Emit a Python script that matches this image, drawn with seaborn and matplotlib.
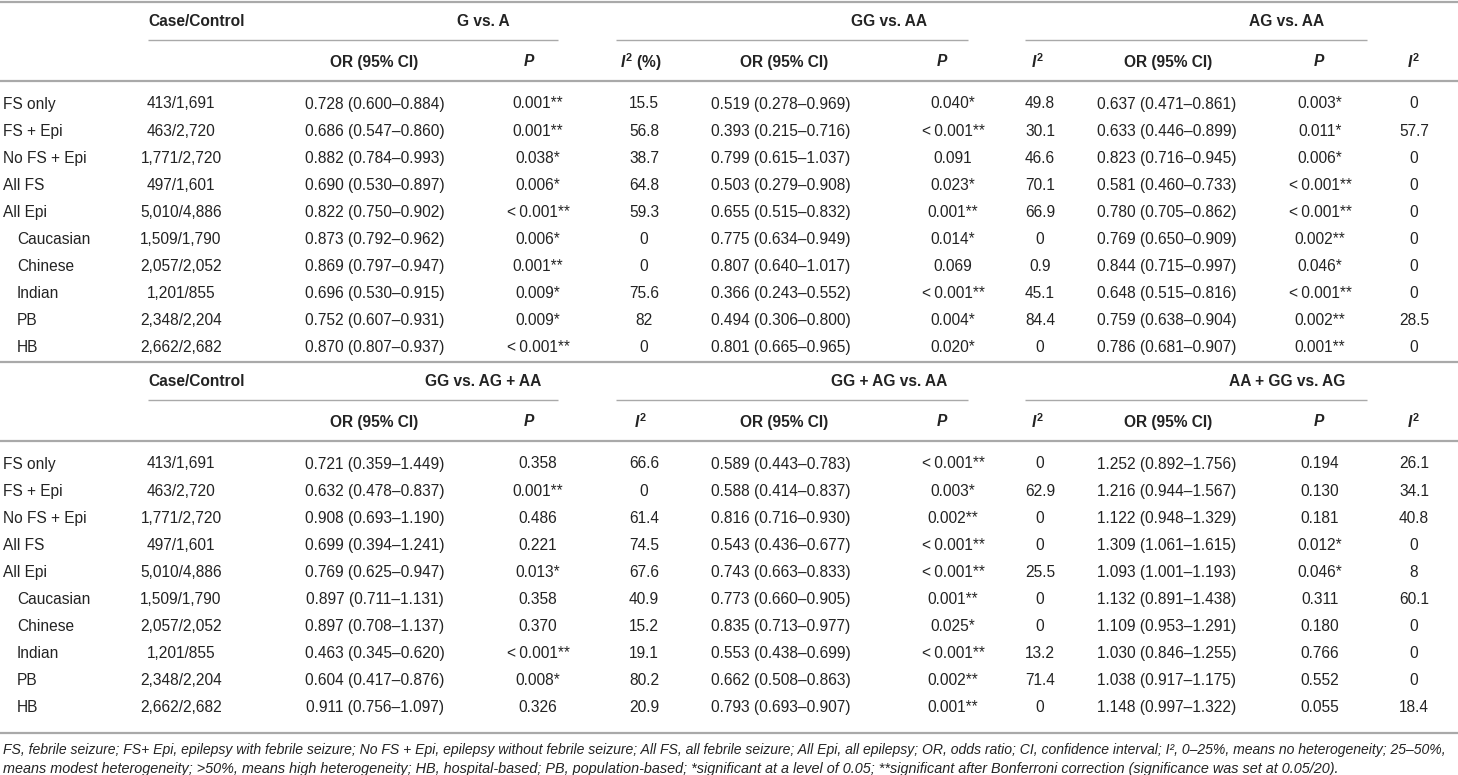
import matplotlib
matplotlib.use("Agg")
import matplotlib.pyplot as plt
import seaborn as sns

# ---------------- data ----------------
row_labels = ["FS only", "FS + Epi", "No FS + Epi", "All FS", "All Epi",
              "Caucasian", "Chinese", "Indian", "PB", "HB"]
row_indent = [False, False, False, False, False, True, True, True, True, True]
case_control = ["413/1,691", "463/2,720", "1,771/2,720", "497/1,601", "5,010/4,886",
                "1,509/1,790", "2,057/2,052", "1,201/855", "2,348/2,204", "2,662/2,682"]

# Table 1
g_vs_a_or = ["0.728 (0.600–0.884)", "0.686 (0.547–0.860)", "0.882 (0.784–0.993)",
             "0.690 (0.530–0.897)", "0.822 (0.750–0.902)", "0.873 (0.792–0.962)",
             "0.869 (0.797–0.947)", "0.696 (0.530–0.915)", "0.752 (0.607–0.931)",
             "0.870 (0.807–0.937)"]
g_vs_a_p = ["0.001**", "0.001**", "0.038*", "0.006*", "<0.001**", "0.006*",
            "0.001**", "0.009*", "0.009*", "<0.001**"]
g_vs_a_i2 = ["15.5", "56.8", "38.7", "64.8", "59.3", "0", "0", "75.6", "82", "0"]

gg_vs_aa_or = ["0.519 (0.278–0.969)", "0.393 (0.215–0.716)", "0.799 (0.615–1.037)",
               "0.503 (0.279–0.908)", "0.655 (0.515–0.832)", "0.775 (0.634–0.949)",
               "0.807 (0.640–1.017)", "0.366 (0.243–0.552)", "0.494 (0.306–0.800)",
               "0.801 (0.665–0.965)"]
gg_vs_aa_p = ["0.040*", "<0.001**", "0.091", "0.023*", "0.001**", "0.014*",
              "0.069", "<0.001**", "0.004*", "0.020*"]
gg_vs_aa_i2 = ["49.8", "30.1", "46.6", "70.1", "66.9", "0", "0.9", "45.1", "84.4", "0"]

ag_vs_aa_or = ["0.637 (0.471–0.861)", "0.633 (0.446–0.899)", "0.823 (0.716–0.945)",
               "0.581 (0.460–0.733)", "0.780 (0.705–0.862)", "0.769 (0.650–0.909)",
               "0.844 (0.715–0.997)", "0.648 (0.515–0.816)", "0.759 (0.638–0.904)",
               "0.786 (0.681–0.907)"]
ag_vs_aa_p = ["0.003*", "0.011*", "0.006*", "<0.001**", "<0.001**", "0.002**",
              "0.046*", "<0.001**", "0.002**", "0.001**"]
ag_vs_aa_i2 = ["0", "57.7", "0", "0", "0", "0", "0", "0", "28.5", "0"]

# Table 2
gg_vs_agaa_or = ["0.721 (0.359–1.449)", "0.632 (0.478–0.837)", "0.908 (0.693–1.190)",
                 "0.699 (0.394–1.241)", "0.769 (0.625–0.947)", "0.897 (0.711–1.131)",
                 "0.897 (0.708–1.137)", "0.463 (0.345–0.620)", "0.604 (0.417–0.876)",
                 "0.911 (0.756–1.097)"]
gg_vs_agaa_p = ["0.358", "0.001**", "0.486", "0.221", "0.013*", "0.358", "0.370",
                "<0.001**", "0.008*", "0.326"]
gg_vs_agaa_i2 = ["66.6", "0", "61.4", "74.5", "67.6", "40.9", "15.2", "19.1", "80.2", "20.9"]

ggag_vs_aa_or = ["0.589 (0.443–0.783)", "0.588 (0.414–0.837)", "0.816 (0.716–0.930)",
                 "0.543 (0.436–0.677)", "0.743 (0.663–0.833)", "0.773 (0.660–0.905)",
                 "0.835 (0.713–0.977)", "0.553 (0.438–0.699)", "0.662 (0.508–0.863)",
                 "0.793 (0.693–0.907)"]
ggag_vs_aa_p = ["<0.001**", "0.003*", "0.002**", "<0.001**", "<0.001**", "0.001**",
                "0.025*", "<0.001**", "0.002**", "0.001**"]
ggag_vs_aa_i2 = ["0", "62.9", "0", "0", "25.5", "0", "0", "13.2", "71.4", "0"]

aagg_vs_ag_or = ["1.252 (0.892–1.756)", "1.216 (0.944–1.567)", "1.122 (0.948–1.329)",
                 "1.309 (1.061–1.615)", "1.093 (1.001–1.193)", "1.132 (0.891–1.438)",
                 "1.109 (0.953–1.291)", "1.030 (0.846–1.255)", "1.038 (0.917–1.175)",
                 "1.148 (0.997–1.322)"]
aagg_vs_ag_p = ["0.194", "0.130", "0.181", "0.012*", "0.046*", "0.311", "0.180",
                "0.766", "0.552", "0.055"]
aagg_vs_ag_i2 = ["26.1", "34.1", "40.8", "0", "8", "60.1", "0", "0", "0", "18.4"]

table1_titles = ["G vs. A", "GG vs. AA", "AG vs. AA"]
table2_titles = ["GG vs. AG + AA", "GG + AG vs. AA", "AA + GG vs. AG"]

footnote_lines = [
    "FS, febrile seizure; FS+ Epi, epilepsy with febrile seizure; No FS + Epi, epilepsy without febrile seizure; "
    "All FS, all febrile seizure; All Epi, all epilepsy; OR, odds ratio; CI, confidence interval; I², 0–25%, "
    "means no heterogeneity; 25–50%,",
    "means modest heterogeneity; >50%, means high heterogeneity; HB, hospital-based; PB, population-based; "
    "*significant at a level of 0.05; **significant after Bonferroni correction (significance was set at 0.05/20).",
]

# ---------------- style ----------------
sns.set_theme(style="white")
plt.rcParams["font.family"] = ["Liberation Sans", "DejaVu Sans"]
plt.rcParams["mathtext.fontset"] = "custom"
plt.rcParams["mathtext.rm"] = "Liberation Sans:bold"
plt.rcParams["mathtext.it"] = "Liberation Sans:italic:bold"
plt.rcParams["mathtext.bf"] = "Liberation Sans:bold"

TXT = "#232323"
RULE = "#a9a9a9"
FS = 11.2

W, H = 1458, 775
fig = plt.figure(figsize=(W / 100, H / 100), dpi=100)
ax = fig.add_axes([0, 0, 1, 1])
ax.set_xlim(0, W)
ax.set_ylim(H, 0)
ax.axis("off")
sns.despine(ax=ax, left=True, bottom=True)

# column anchors
x_label, x_indent = 3, 17
x_cc_head, x_cc = 148, 181
or_x = [375, 781, 1167]
p_x = [538, 953, 1320]
i2_x = [644, 1040, 1414]
or_head_x = [374, 784, 1168]
p_head_x = [529, 942, 1319]
i2_head_x = [641, 1038, 1414]
title_x = [483, 889, 1287]
underlines = [(148, 558), (616, 968), (1025, 1367)]


def hline(y, x0=0, x1=W, lw=1.6):
    ax.plot([x0, x1], [y, y], color=RULE, lw=lw, solid_capstyle="butt")


def fmt_p(s):
    return s.replace("<", "<\u2009")


def draw_table(y_top, titles, groups, first_i2_label):
    hline(y_top)
    yh1 = y_top + 19
    yul = y_top + 38
    yh2 = y_top + 60
    yrule = y_top + 79
    ax.text(x_cc_head, yh1, "Case/Control", ha="left", va="center",
            fontsize=FS, fontweight="bold", color=TXT)
    for k in range(3):
        ax.text(title_x[k], yh1, titles[k], ha="center", va="center",
                fontsize=FS, fontweight="bold", color=TXT)
        x0, x1 = underlines[k]
        hline(yul, x0, x1, lw=1.0)
        ax.text(or_head_x[k], yh2, "OR (95% CI)", ha="center", va="center",
                fontsize=FS, fontweight="bold", color=TXT)
        ax.text(p_head_x[k], yh2, "P", ha="center", va="center",
                fontsize=FS, fontweight="bold", fontstyle="italic", color=TXT)
        lab = first_i2_label if k == 0 else r"$I^{2}$"
        ax.text(i2_head_x[k], yh2, lab, ha="center", va="center",
                fontsize=FS, fontweight="bold", color=TXT)
    hline(yrule)
    y0 = y_top + 102
    dy = 27.1
    for i, lab in enumerate(row_labels):
        y = y0 + i * dy
        ax.text(x_indent if row_indent[i] else x_label, y, lab, ha="left", va="center",
                fontsize=FS, color=TXT)
        ax.text(x_cc, y, case_control[i], ha="center", va="center", fontsize=FS, color=TXT)
        for k, (orv, pv, iv) in enumerate(groups):
            ax.text(or_x[k], y, orv[i], ha="center", va="center", fontsize=FS, color=TXT)
            ax.text(p_x[k], y, fmt_p(pv[i]), ha="center", va="center", fontsize=FS, color=TXT)
            ax.text(i2_x[k], y, iv[i], ha="center", va="center", fontsize=FS, color=TXT)


draw_table(2, table1_titles,
           [(g_vs_a_or, g_vs_a_p, g_vs_a_i2),
            (gg_vs_aa_or, gg_vs_aa_p, gg_vs_aa_i2),
            (ag_vs_aa_or, ag_vs_aa_p, ag_vs_aa_i2)],
           r"$I^{2}$ (%)")
draw_table(362, table2_titles,
           [(gg_vs_agaa_or, gg_vs_agaa_p, gg_vs_agaa_i2),
            (ggag_vs_aa_or, ggag_vs_aa_p, ggag_vs_aa_i2),
            (aagg_vs_ag_or, aagg_vs_ag_p, aagg_vs_ag_i2)],
           r"$I^{2}$")
hline(733)

foot_sizes = [10.05, 10.4]
for j, line in enumerate(footnote_lines):
    ax.text(3, 750 + j * 18.5, line, ha="left", va="center", fontsize=foot_sizes[j],
            fontstyle="italic", color=TXT)

fig.savefig("out.png", dpi=100)
